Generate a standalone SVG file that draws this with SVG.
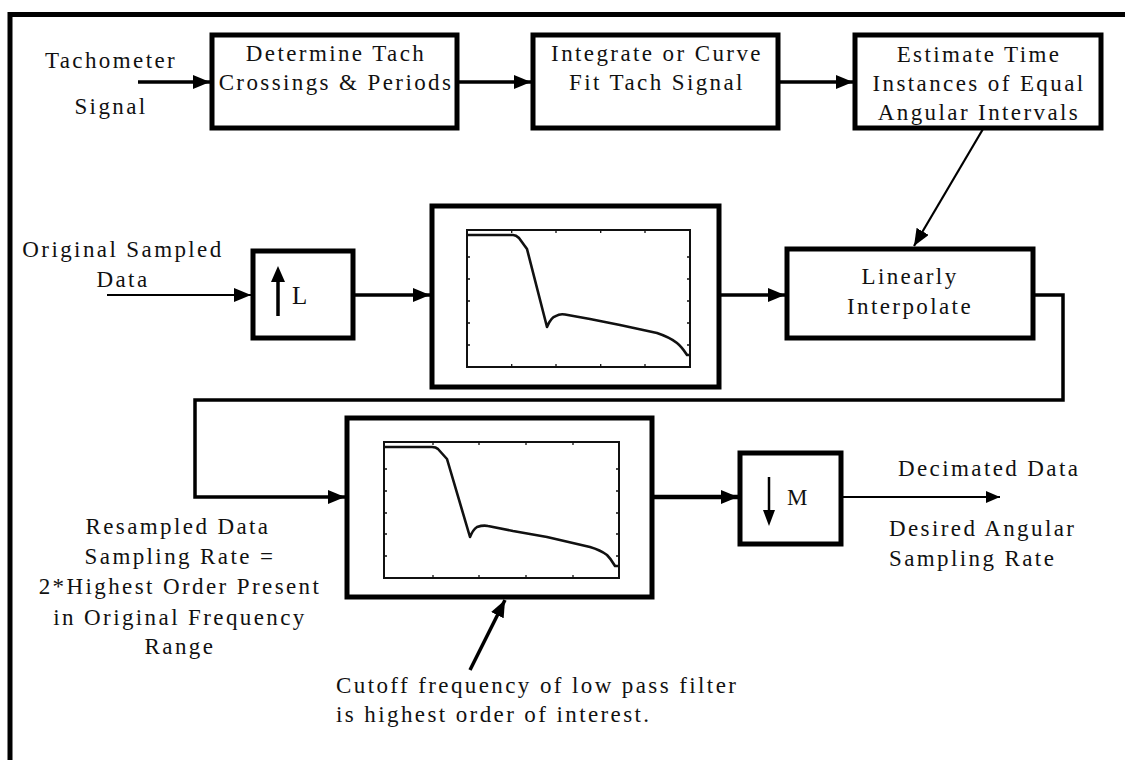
<svg xmlns="http://www.w3.org/2000/svg" width="1125" height="760" viewBox="0 0 1125 760">
<style>
text{font-family:'Liberation Serif','Times New Roman',serif;font-size:23px;letter-spacing:2.4px;fill:#111}
.c{text-anchor:middle}
.box{fill:#fff;stroke:#000;stroke-width:5}
.plot{fill:none;stroke:#111;stroke-width:2}
.curve{fill:none;stroke:#111;stroke-width:2.6;stroke-linejoin:round}
.tick{stroke:#111;stroke-width:1.3}
.w{fill:none;stroke:#000;stroke-width:3.5}
.t{fill:none;stroke:#000;stroke-width:2.2}
</style>
<defs>
<marker id="ah" markerUnits="userSpaceOnUse" markerWidth="18" markerHeight="14" refX="17" refY="7" orient="auto"><path d="M0,0 L17,7 L0,14 z" fill="#000"/></marker>
<marker id="as" markerUnits="userSpaceOnUse" markerWidth="14" markerHeight="12" refX="14" refY="6" orient="auto"><path d="M0,0 L14,6 L0,12 z" fill="#000"/></marker>
</defs>
<rect width="1125" height="760" fill="#fff"/>
<g id="frame"><path d="M10,760 V14.5 H1125" fill="none" stroke="#000" stroke-width="5"/></g>

<g id="connectors">
<line class="w" x1="138" y1="82" x2="210" y2="82" marker-end="url(#ah)"/>
<line class="w" x1="459" y1="82" x2="531" y2="82" marker-end="url(#ah)"/>
<line class="w" x1="780" y1="82" x2="853" y2="82" marker-end="url(#ah)"/>
<line class="t" x1="983" y1="129" x2="914" y2="246" marker-end="url(#ah)"/>
<line class="t" x1="107" y1="295" x2="251" y2="295" marker-end="url(#ah)"/>
<line class="w" x1="355" y1="295" x2="430" y2="295" marker-end="url(#ah)"/>
<line class="w" x1="721" y1="295" x2="785" y2="295" marker-end="url(#ah)"/>
<path class="w" d="M1033,295 H1063 V400 H195 V497 H345" marker-end="url(#ah)" stroke-linejoin="miter"/>
<line x1="652" y1="497" x2="738" y2="497" stroke="#000" stroke-width="4.5" marker-end="url(#ah)"/>
<line class="t" x1="843" y1="497" x2="1000" y2="497" marker-end="url(#as)"/>
<line class="w" x1="470" y1="670" x2="505" y2="600" marker-end="url(#ah)"/>
</g>

<g id="tach-label">
<text class="c" x="111" y="68">Tachometer</text>
<text class="c" x="111" y="114">Signal</text>
</g>

<g id="box-determine">
<rect class="box" x="212" y="35" width="245" height="93"/>
<text class="c" x="336" y="61">Determine Tach</text>
<text class="c" x="336" y="90">Crossings &amp; Periods</text>
</g>

<g id="box-integrate">
<rect class="box" x="533" y="35" width="245" height="93"/>
<text class="c" x="657" y="61">Integrate or Curve</text>
<text class="c" x="657" y="90">Fit Tach Signal</text>
</g>

<g id="box-estimate">
<rect class="box" x="855" y="35" width="246" height="93"/>
<text class="c" x="979" y="62">Estimate Time</text>
<text class="c" x="979" y="91">Instances of Equal</text>
<text class="c" x="979" y="120">Angular Intervals</text>
</g>

<g id="orig-label">
<text class="c" x="123" y="257">Original Sampled</text>
<text class="c" x="123" y="287">Data</text>
</g>

<g id="box-upsample">
<rect class="box" x="253" y="251" width="100" height="87"/>
<line x1="278" y1="316" x2="278" y2="280" stroke="#000" stroke-width="3.5"/>
<path d="M271,282 L278,266 L285,282 z" fill="#000"/>
<text x="292" y="304" style="font-size:25px">L</text>
</g>

<g id="filter-1">
<rect class="box" x="432" y="206" width="287" height="181"/>
<rect class="plot" x="467" y="230" width="223" height="137"/>
<path class="tick" d="M511.7,230v3M556,230v3M600.7,230v3M645,230v3M511.7,367v-3M556,367v-3M600.7,367v-3M645,367v-3M467,257h3M467,279h3M467,301h3M467,323h3M467,345h3M690,257h-3M690,279h-3M690,301h-3M690,323h-3M690,345h-3"/>
<path class="curve" d="M468,235 L513,235 C516,235 518,237 519,238 L527,249 L547,327 C549,322 552,317 556,316 C559,314 562,314 565,314.5 L590,319 L620,325 L657,333 C666,336 672,339 677,343 C682,347 685,352 687,355 L690,355"/>
</g>

<g id="box-interp">
<rect class="box" x="787" y="249" width="246" height="89"/>
<text class="c" x="910" y="284">Linearly</text>
<text class="c" x="910" y="314">Interpolate</text>
</g>

<g id="filter-2">
<rect class="box" x="347" y="418" width="305" height="179"/>
<rect class="plot" x="384" y="442" width="235" height="136"/>
<path class="tick" d="M433,442v3M479,442v3M526,442v3M573,442v3M433,578v-3M479,578v-3M526,578v-3M573,578v-3M384,469h3M384,491h3M384,513h3M384,534h3M384,556h3M619,469h-3M619,491h-3M619,513h-3M619,534h-3M619,556h-3"/>
<path class="curve" d="M385,447 L432,447 C435,447 437,448 438,449 L447,459 L470,537 C472,532 474,529 477,527 C480,526 484,525 488,526 L513,531 L547,537 L590,547 C597,549 603,552 607,555 C611,559 613,563 615,566 L618,566"/>
</g>

<g id="box-decimate">
<rect class="box" x="740" y="453" width="101" height="91"/>
<line x1="769" y1="477" x2="769" y2="512" stroke="#000" stroke-width="2.5"/>
<path d="M763,510 L769,526 L775,510 z" fill="#000"/>
<text x="787" y="505">M</text>
</g>

<g id="out-labels">
<text x="898" y="476">Decimated Data</text>
<text x="889" y="536">Desired Angular</text>
<text x="889" y="566">Sampling Rate</text>
</g>

<g id="resampled-label">
<text class="c" x="178" y="534">Resampled Data</text>
<text class="c" x="180" y="564">Sampling Rate =</text>
<text class="c" x="180" y="594">2*Highest Order Present</text>
<text class="c" x="180" y="625">in Original Frequency</text>
<text class="c" x="180" y="654">Range</text>
</g>

<g id="cutoff-label">
<text x="336" y="693">Cutoff frequency of low pass filter</text>
<text x="336" y="722">is highest order of interest.</text>
</g>
</svg>
